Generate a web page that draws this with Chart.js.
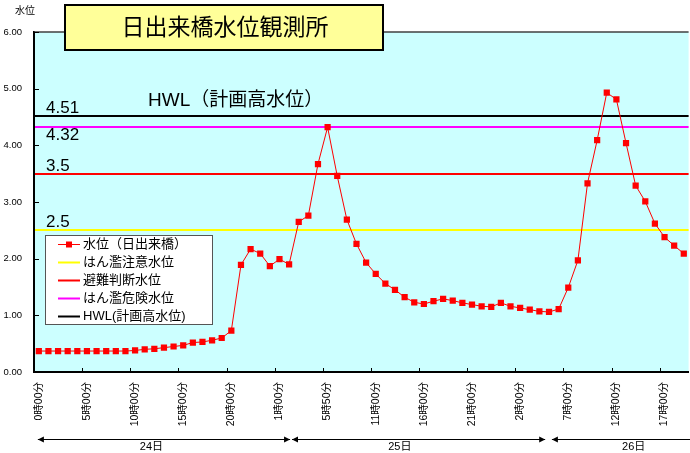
<!DOCTYPE html>
<html><head><meta charset="utf-8">
<script src="https://cdn.jsdelivr.net/npm/chart.js@4"></script>
<style>html,body{margin:0;padding:0;background:#fff;overflow:hidden;}#wrap{width:690px;height:453px;overflow:hidden;}</style>
</head><body><div id="wrap"><canvas id="c" width="693" height="453"></canvas></div>
<script>
const chartTitle = '日出来橋水位観測所';
const yAxisTitle = '水位';
const tickLabels = ['0時00分','5時00分','10時00分','15時00分','20時00分','1時00分','5時50分','11時00分','16時00分','21時00分','2時00分','7時00分','12時00分','17時00分'];
const labelEvery = 5;
const seriesName = '水位（日出来橋）';
const waterLevel = [0.37,0.37,0.37,0.37,0.37,0.37,0.37,0.37,0.37,0.37,
  0.38,0.40,0.41,0.43,0.45,0.47,0.52,0.53,0.56,0.60,
  0.73,1.89,2.17,2.09,1.87,1.99,1.90,2.65,2.76,3.67,
  4.32,3.46,2.69,2.26,1.93,1.73,1.56,1.45,1.32,1.23,
  1.20,1.25,1.29,1.26,1.22,1.19,1.16,1.15,1.22,1.16,
  1.13,1.10,1.07,1.06,1.11,1.49,1.97,3.33,4.09,4.93,
  4.81,4.04,3.29,3.01,2.62,2.38,2.23,2.09];
const levelNames = ['はん濫注意水位','避難判断水位','はん濫危険水位','HWL(計画高水位)'];
const levelValues = [2.5, 3.5, 4.32, 4.51];
const levelTexts = ['2.5','3.5','4.32','4.51'];
const levelColors = ['#FFFF00','#FF0000','#FF00FF','#000000'];
const hwlCaption = 'HWL（計画高水位）';
const dayLabels = ['24日','25日','26日'];

// annotation layout (category units)
const daySpans = [[0.4,26.6],[26.8,53.1],[53.8,72]];
const dayLabelAt = [12.2,38.0,62.3];
const levelLabelBelow = [false,false,true,false];

const FONT = '"Liberation Sans", "Noto Sans CJK JP", sans-serif';
const categories = waterLevel.map((_, i) => i % labelEvery === 0 ? (tickLabels[i / labelEvery] || '') : '');

function arrowHead(ctx, x, y, dir) {
  ctx.beginPath();
  ctx.moveTo(x, y);
  ctx.lineTo(x - dir * 6, y - 3);
  ctx.lineTo(x - dir * 6, y + 3);
  ctx.closePath();
  ctx.fill();
}

const decor = {
  id: 'decor',
  beforeDraw(chart) {
    const {ctx, chartArea: a} = chart;
    ctx.save();
    ctx.fillStyle = '#CCFFFF';
    ctx.fillRect(a.left, a.top, a.right - a.left, a.bottom - a.top);
    ctx.restore();
  },
  beforeDatasetsDraw(chart) {
    const {ctx, chartArea: a, scales: {y}} = chart;
    ctx.save();
    ctx.lineWidth = 2;
    levelValues.forEach((v, i) => {
      const py = Math.round(y.getPixelForValue(v));
      ctx.strokeStyle = levelColors[i];
      ctx.beginPath(); ctx.moveTo(a.left + 1, py); ctx.lineTo(a.right, py); ctx.stroke();
    });
    ctx.restore();
  },
  afterDraw(chart) {
    const {ctx, chartArea: a, scales: {x, y}} = chart;
    const N = waterLevel.length;
    const cw = (a.right - a.left) / N;
    const ux = u => a.left + u * cw;
    ctx.save();
    // top border
    ctx.strokeStyle = '#404040'; ctx.lineWidth = 1.5;
    ctx.beginPath(); ctx.moveTo(a.left, a.top); ctx.lineTo(a.right, a.top); ctx.stroke();
    // inside tick marks
    ctx.strokeStyle = '#000'; ctx.lineWidth = 1;
    for (let i = 0; i <= N; i += labelEvery) {
      const px = Math.round(ux(i)) + 0.5;
      ctx.beginPath(); ctx.moveTo(px, a.bottom); ctx.lineTo(px, a.bottom - 4); ctx.stroke();
    }
    y.ticks.forEach(t => {
      const py = Math.round(y.getPixelForValue(t.value)) + 0.5;
      ctx.beginPath(); ctx.moveTo(a.left, py); ctx.lineTo(a.left + 5, py); ctx.stroke();
    });
    // level labels
    ctx.fillStyle = '#000';
    ctx.font = '17px ' + FONT;
    ctx.textAlign = 'left'; ctx.textBaseline = 'alphabetic';
    levelValues.forEach((v, i) => {
      const py = y.getPixelForValue(v);
      ctx.fillText(levelTexts[i], 46, levelLabelBelow[i] ? py + 13 : py - 3);
    });
    ctx.font = '19px ' + FONT;
    ctx.fillText(hwlCaption, 148, y.getPixelForValue(levelValues[3]) - 10);
    // legend
    const lx = 45, ly = 235, lw = 167, lh = 89;
    ctx.fillStyle = '#fff'; ctx.fillRect(lx, ly, lw, lh);
    ctx.strokeStyle = '#555'; ctx.lineWidth = 1;
    ctx.strokeRect(lx + 0.5, ly + 0.5, lw, lh);
    const items = [{t: seriesName, c: '#FF0000', w: 1, m: true}].concat(levelNames.map((n, i) => ({t: n, c: levelColors[i], w: 2, m: false})));
    ctx.font = '13px ' + FONT; ctx.textBaseline = 'middle';
    items.forEach((it, k) => {
      const cy = ly + 9.5 + k * 18;
      ctx.strokeStyle = it.c; ctx.lineWidth = it.w;
      ctx.beginPath(); ctx.moveTo(58, cy); ctx.lineTo(80, cy); ctx.stroke();
      if (it.m) { ctx.fillStyle = it.c; ctx.fillRect(66, cy - 3, 6, 6); }
      ctx.fillStyle = '#000';
      ctx.fillText(it.t, 83, cy);
    });
    // title box
    ctx.fillStyle = '#FFFF99'; ctx.fillRect(65, 5, 318, 45);
    ctx.strokeStyle = '#000'; ctx.lineWidth = 2; ctx.strokeRect(65, 5, 318, 45);
    ctx.fillStyle = '#000'; ctx.font = '23px ' + FONT; ctx.textAlign = 'center';
    ctx.fillText(chartTitle, 225, 29);
    // y title
    ctx.font = '10px ' + FONT;
    ctx.fillText(yAxisTitle, 25, 11);
    // day arrows
    const ay = 439.5;
    ctx.strokeStyle = '#000'; ctx.lineWidth = 1; ctx.fillStyle = '#000';
    daySpans.forEach((s, i) => {
      const x0 = ux(s[0]), x1 = ux(s[1]);
      ctx.beginPath(); ctx.moveTo(x0, ay); ctx.lineTo(x1, ay); ctx.stroke();
      arrowHead(ctx, x0, ay, -1);
      arrowHead(ctx, x1, ay, 1);
    });
    ctx.font = '11px ' + FONT; ctx.textAlign = 'center'; ctx.textBaseline = 'middle';
    dayLabels.forEach((d, i) => ctx.fillText(d, ux(dayLabelAt[i]), 447));
    ctx.restore();
  }
};

new Chart(document.getElementById('c'), {
  type: 'line',
  data: {
    labels: categories,
    datasets: [{
      label: seriesName, data: waterLevel,
      borderColor: '#FF0000', backgroundColor: '#FF0000', borderWidth: 1,
      pointStyle: 'rect', pointRadius: 4.4, pointBorderWidth: 0, tension: 0
    }]
  },
  options: {
    responsive: false, animation: false, devicePixelRatio: 1,
    layout: {padding: {top: 32, left: 0, right: 0, bottom: 0}},
    plugins: {legend: {display: false}, tooltip: {enabled: false}},
    scales: {
      x: {
        type: 'category', offset: true,
        grid: {display: false, drawTicks: false, offset: true},
        border: {display: true, color: '#000', width: 2},
        ticks: {autoSkip: false, maxRotation: 90, minRotation: 90, padding: 10, color: '#000', font: {size: 10.5, family: FONT}},
        afterFit(s) { s.height = 81; s.paddingLeft = 0; s.paddingRight = 0; }
      },
      y: {
        min: 0, max: 6,
        grid: {display: false, drawTicks: false},
        border: {display: true, color: '#000', width: 2},
        ticks: {stepSize: 1, padding: 12, color: '#000', font: {size: 9.5, family: FONT}, callback: v => v.toFixed(2)},
        afterFit(s) { s.width = 34; }
      }
    }
  },
  plugins: [decor]
});
</script>
</body></html>
